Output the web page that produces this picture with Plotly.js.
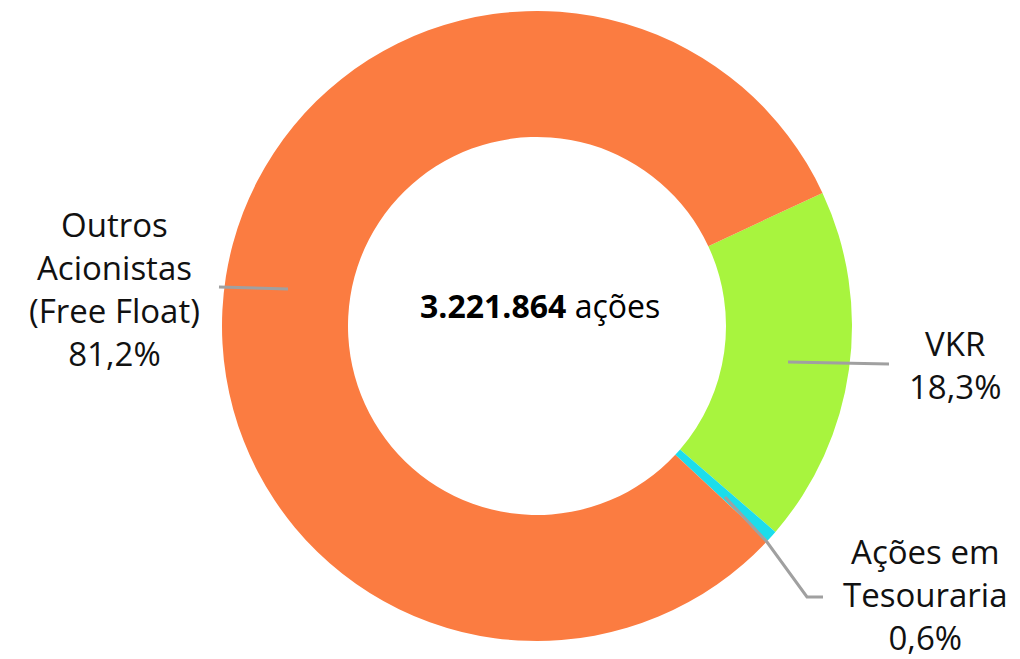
<!DOCTYPE html>
<html>
<head>
<meta charset="utf-8">
<script src="https://cdn.plot.ly/plotly-3.0.1.min.js"></script>
<style>html,body{margin:0;padding:0;background:#fff;}#chart{width:1020px;height:659px;}</style>
</head>
<body>
<div id="chart"></div>
<script>
const categories = ["VKR", "Ações em<br>Tesouraria", "Outros<br>Acionistas<br>(Free Float)"];
const shares = [18.3, 0.6, 81.2];
const shareLabels = ["18,3%", "0,6%", "81,2%"];
const totalShares = "3.221.864";
const colors = ["#A8F43E", "#1CDDEB", "#FB7C41"];

const W = 1020, H = 659;
const px = x => x / W;
const py = y => 1 - y / H;

const trace = {
  type: "pie",
  values: shares,
  labels: categories,
  hole: 0.6,
  sort: false,
  direction: "clockwise",
  rotation: 65,
  textinfo: "none",
  hoverinfo: "label+percent",
  marker: {colors: colors, line: {width: 0}},
  domain: {x: [px(222), px(852)], y: [py(641), py(11)]},
  showlegend: false
};

const labelFont = {family: "'Open Sans', Lato, sans-serif", size: 33, color: "#111"};
function lab(text, x, y) {
  return {text: text, x: px(x), y: py(y), xref: "paper", yref: "paper", xanchor: "center", yanchor: "middle",
          showarrow: false, font: labelFont, align: "center"};
}
const annotations = [
  {text: "<b>" + totalShares + "</b> ações", x: px(540), y: py(306), xref: "paper", yref: "paper",
   xanchor: "center", yanchor: "middle",
   showarrow: false, font: {family: "'Open Sans', 'Liberation Sans', sans-serif", size: 32, color: "#000"}},
  lab(categories[2] + "<br>" + shareLabels[2], 114, 289),
  lab(categories[0] + "<br>" + shareLabels[0], 955, 365),
  lab(categories[1] + "<br>" + shareLabels[1], 925, 594)
];

const lineStyle = {color: "#A0A0A0", width: 3};
const shapes = [
  {type: "line", xref: "paper", yref: "paper", x0: px(219), y0: py(287), x1: px(288), y1: py(289), line: lineStyle},
  {type: "line", xref: "paper", yref: "paper", x0: px(788), y0: py(362), x1: px(889), y1: py(364), line: lineStyle},
  {type: "path", xref: "paper", yref: "paper",
   path: "M " + px(725) + " " + py(497) + " L " + px(767) + " " + py(542) + " L " + px(807) + " " + py(597) + " L " + px(823) + " " + py(597),
   line: lineStyle}
];

const layout = {
  width: W, height: H,
  margin: {l: 0, r: 0, t: 0, b: 0},
  paper_bgcolor: "#fff",
  plot_bgcolor: "#fff",
  annotations: annotations,
  shapes: shapes
};

Plotly.newPlot("chart", [trace], layout, {displayModeBar: false, staticPlot: true});
</script>
</body>
</html>
